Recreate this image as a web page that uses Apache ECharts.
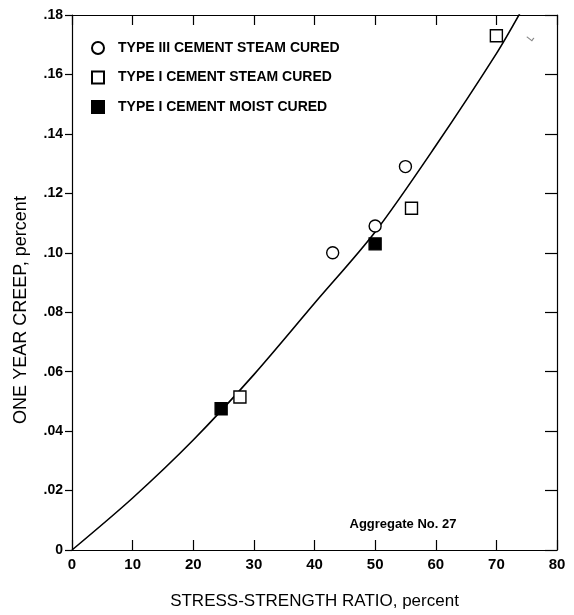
<!DOCTYPE html>
<html>
<head>
<meta charset="utf-8">
<script src="https://cdn.jsdelivr.net/npm/echarts@6/dist/echarts.min.js"></script>
<style>html,body{margin:0;padding:0;background:#fff;}#c{width:574px;height:615px;}</style>
</head>
<body>
<div id="c"></div>
<script>
// Data
var seriesNames = ['TYPE III CEMENT STEAM CURED', 'TYPE I CEMENT STEAM CURED', 'TYPE I CEMENT MOIST CURED'];
var typeIIISteam = [[43, 0.100], [50, 0.109], [55, 0.129]];
var typeISteam = [[27.7, 0.0515], [56, 0.115], [70, 0.173]];
var typeIMoist = [[24.6, 0.0475], [50, 0.103]];
var stray = [[75.6, 0.172]];
var curve = [[0, 0], [10, 0.0175], [20, 0.037], [30, 0.059], [40, 0.083], [50, 0.107], [60, 0.136], [70, 0.167], [74, 0.181]];
var xTickLabels = ['0', '10', '20', '30', '40', '50', '60', '70', '80'];
var yTickLabels = ['0', '.02', '.04', '.06', '.08', '.10', '.12', '.14', '.16', '.18'];

var FONT = 'Liberation Sans';
var chart = echarts.init(document.getElementById('c'), null, {renderer: 'canvas'});
var axisLine = {show: true, onZero: false, lineStyle: {color: '#000', width: 1.2}};
chart.setOption({
  animation: false,
  backgroundColor: '#fff',
  grid: {left: 72, right: 17, top: 15, bottom: 60, containLabel: false},
  legend: {
    data: seriesNames,
    orient: 'vertical',
    left: 86, top: 36,
    itemWidth: 12, itemHeight: 12, itemGap: 15.5,
    textStyle: {fontFamily: FONT, fontSize: 14, fontWeight: 'bold', color: '#000', padding: [0, 0, 0, 9]}
  },
  xAxis: [{
    type: 'value', min: 0, max: 80, interval: 10, position: 'bottom',
    axisLine: axisLine,
    axisTick: {show: true, inside: true, length: 10, lineStyle: {color: '#000', width: 1.2}},
    axisLabel: {margin: 7, fontFamily: FONT, fontSize: 15, fontWeight: 'bold', color: '#000',
      formatter: function (v) { return xTickLabels[Math.round(v / 10)]; }},
    splitLine: {show: false},
    name: 'STRESS-STRENGTH RATIO, percent', nameLocation: 'middle', nameGap: 43,
    nameTextStyle: {fontFamily: FONT, fontSize: 17, color: '#000'}
  }, {
    type: 'value', min: 0, max: 80, interval: 10, position: 'top',
    axisLine: axisLine,
    axisTick: {show: true, inside: true, length: 10, lineStyle: {color: '#000', width: 1.2}},
    axisLabel: {show: false}, splitLine: {show: false}
  }],
  yAxis: [{
    type: 'value', min: 0, max: 0.18, interval: 0.02, position: 'left',
    axisLine: axisLine,
    axisTick: {show: true, inside: false, length: 7, lineStyle: {color: '#000', width: 1.2}},
    axisLabel: {margin: 9, fontFamily: FONT, fontSize: 14, fontWeight: 'bold', color: '#000',
      formatter: function (v) { return yTickLabels[Math.round(v / 0.02)]; }},
    splitLine: {show: false}
  }, {
    type: 'value', min: 0, max: 0.18, interval: 0.02, position: 'right',
    axisLine: axisLine,
    axisTick: {show: true, inside: true, length: 12, lineStyle: {color: '#000', width: 1.2}},
    axisLabel: {show: false}, splitLine: {show: false}
  }],
  graphic: [{
    type: 'text', x: 21, y: 310, rotation: Math.PI / 2,
    style: {text: 'ONE YEAR CREEP, percent', fontFamily: FONT, fontSize: 18, fill: '#000',
      textAlign: 'center', textVerticalAlign: 'middle'}
  }, {
    type: 'text', x: 403, y: 524,
    style: {text: 'Aggregate No. 27', fontFamily: FONT, fontSize: 13, fontWeight: 'bold', fill: '#000',
      textAlign: 'center', textVerticalAlign: 'middle'}
  }],
  series: [{
    type: 'line', data: curve, smooth: 0.3, showSymbol: false, symbol: 'none', clip: true,
    lineStyle: {color: '#000', width: 1.6}, silent: true, z: 1
  }, {
    name: seriesNames[0], type: 'scatter', data: typeIIISteam, symbol: 'circle', symbolSize: 12,
    itemStyle: {color: '#fff', borderColor: '#000', borderWidth: 1.4, opacity: 1}, z: 3
  }, {
    name: seriesNames[1], type: 'scatter', data: typeISteam, symbol: 'rect', symbolSize: 12,
    itemStyle: {color: '#fff', borderColor: '#000', borderWidth: 1.4, opacity: 1}, z: 3
  }, {
    name: seriesNames[2], type: 'scatter', data: typeIMoist, symbol: 'rect', symbolSize: 12,
    itemStyle: {color: '#000', borderColor: '#000', borderWidth: 1.4, opacity: 1}, z: 3
  }, {
    type: 'scatter', data: stray, symbol: 'path://M0,0 L5,4 L7,1', symbolSize: [7, 4],
    itemStyle: {color: 'none', borderColor: '#666', borderWidth: 1}, silent: true, z: 2
  }]
});
</script>
</body>
</html>
